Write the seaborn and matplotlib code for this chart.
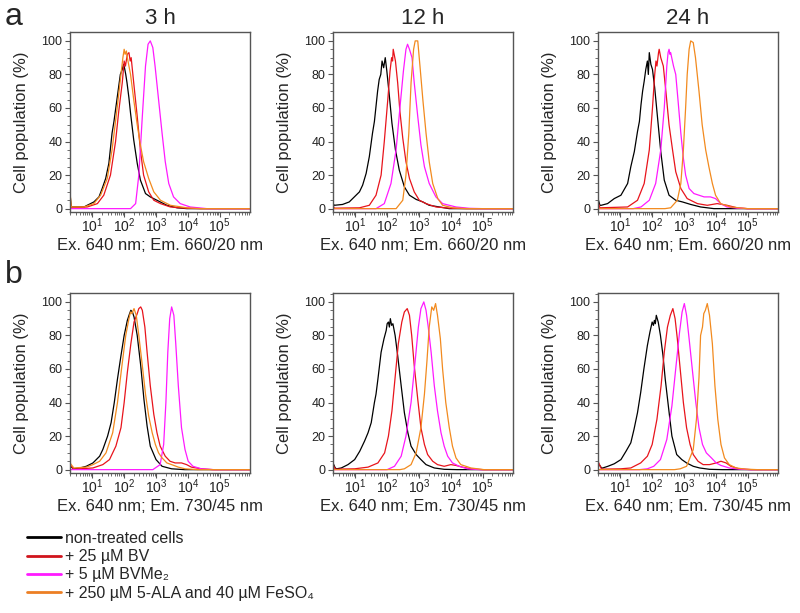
import numpy as np
import pandas as pd
import matplotlib
matplotlib.use("Agg")
import matplotlib.pyplot as plt
import seaborn as sns
from matplotlib.lines import Line2D
from matplotlib.ticker import FixedLocator, LogLocator, FuncFormatter, MultipleLocator, NullFormatter

# ---------------- data (log10 intensity, % cell population) ----------------
TREATMENTS = ["non-treated cells", "+ 25 µM BV", "+ 5 µM BVMe₂",
              "+ 250 µM 5-ALA and 40 µM FeSO₄"]
COLORS = ["#000000", "#e8141c", "#ff1aff", "#f28a1e"]
LEGEND_COLORS = ["#000000", "#d0141c", "#ff1aff", "#ec7f24"]
TIMES = ["3 h", "12 h", "24 h"]
XLABELS = ["Ex. 640 nm; Em. 660/20 nm", "Ex. 640 nm; Em. 730/45 nm"]
XTICKS = [1, 2, 3, 4, 5]

# ---- row a, 3 h
a3_black = [(0.30, 9), (0.34, 1), (0.55, 1), (0.74, 1), (0.84, 2), (1.05, 4), (1.21, 7), (1.31, 12),
            (1.42, 18), (1.52, 27), (1.62, 45), (1.68, 52), (1.73, 59), (1.78, 66), (1.83, 73),
            (1.88, 80), (1.94, 83), (1.98, 86), (2.01, 84), (2.05, 80), (2.09, 75), (2.15, 66),
            (2.20, 57), (2.30, 41), (2.41, 27), (2.51, 17), (2.67, 9), (2.82, 7), (3.03, 5),
            (3.34, 2), (3.66, 0.5), (3.97, 0), (5.95, 0)]
a3_red = [(0.30, 5), (0.34, 0.5), (0.84, 1), (1.16, 3), (1.36, 8), (1.57, 20), (1.73, 40), (1.83, 58),
          (1.94, 75), (2.00, 88), (2.04, 85), (2.10, 92), (2.15, 93), (2.19, 88), (2.22, 90),
          (2.30, 75), (2.41, 55), (2.51, 35), (2.61, 20), (2.77, 10), (2.93, 5), (3.14, 3),
          (3.45, 1), (3.90, 0.3), (4.40, 0), (5.95, 0)]
a3_magenta = [(0.30, 0), (2.20, 0), (2.36, 3), (2.46, 20), (2.57, 55), (2.67, 85), (2.75, 98),
              (2.82, 100), (2.90, 96), (2.97, 85), (3.08, 65), (3.19, 45), (3.29, 28), (3.40, 15),
              (3.55, 7), (3.76, 3), (4.07, 1), (4.60, 0), (5.95, 0)]
a3_orange = [(0.30, 10), (0.34, 1), (0.74, 1), (1.05, 3), (1.26, 8), (1.47, 18), (1.62, 35),
             (1.78, 60), (1.90, 80), (1.96, 90), (2.00, 95), (2.03, 92), (2.07, 94), (2.10, 90),
             (2.20, 80), (2.30, 65), (2.41, 50), (2.51, 38), (2.61, 28), (2.77, 18), (2.93, 10),
             (3.14, 5), (3.45, 2), (3.97, 0.5), (4.40, 0), (5.95, 0)]

# ---- row a, 12 h
a12_black = [(0.30, 3), (0.34, 2), (0.60, 2.5), (0.81, 4), (0.97, 7), (1.13, 10), (1.23, 14),
             (1.34, 21), (1.44, 31), (1.54, 45), (1.60, 52), (1.65, 61), (1.70, 70), (1.75, 77),
             (1.80, 80), (1.84, 88), (1.89, 84), (1.94, 90), (1.99, 82), (2.07, 67), (2.15, 51),
             (2.26, 35), (2.38, 23), (2.54, 13), (2.70, 8), (2.91, 5.5), (3.12, 4), (3.32, 2),
             (3.64, 1), (3.95, 0), (5.95, 0)]
a12_red = [(0.30, 2), (0.34, 0.3), (1.13, 0.5), (1.44, 2), (1.65, 8), (1.81, 20), (1.91, 40),
           (2.02, 65), (2.09, 82), (2.14, 90), (2.17, 88), (2.19, 95), (2.26, 88), (2.33, 75),
           (2.40, 58), (2.49, 42), (2.59, 28), (2.70, 18), (2.85, 10), (3.01, 5), (3.22, 3),
           (3.53, 1), (3.95, 0.3), (4.50, 0), (5.95, 0)]
a12_magenta = [(0.30, 0), (1.65, 0), (1.91, 3), (2.12, 15), (2.28, 35), (2.40, 60), (2.51, 82),
               (2.59, 95), (2.64, 98), (2.70, 95), (2.78, 90), (2.85, 75), (2.96, 55), (3.06, 38),
               (3.17, 25), (3.32, 15), (3.53, 7), (3.74, 3), (4.16, 1), (4.58, 0.2), (5.00, 0),
               (5.95, 0)]
a12_orange = [(0.30, 0), (2.28, 0), (2.49, 5), (2.59, 20), (2.68, 45), (2.75, 75), (2.83, 95),
              (2.88, 100), (2.96, 100), (3.03, 85), (3.12, 65), (3.22, 45), (3.32, 28), (3.43, 15),
              (3.59, 6), (3.74, 2), (4.06, 0.5), (4.50, 0), (5.95, 0)]

# ---- row a, 24 h
a24_black = [(0.30, 6), (0.36, 2), (0.40, 2), (0.60, 3), (0.81, 6), (1.02, 8), (1.23, 15), (1.33, 25),
             (1.44, 34), (1.54, 46), (1.60, 52), (1.65, 62), (1.70, 70), (1.75, 76), (1.80, 83),
             (1.85, 88), (1.88, 80), (1.91, 93), (1.96, 86), (2.01, 83), (2.08, 72), (2.17, 54),
             (2.27, 34), (2.38, 17), (2.53, 8), (2.74, 5), (2.95, 4), (3.21, 2.5), (3.52, 1),
             (3.94, 0), (5.95, 0)]
a24_red = [(0.30, 4), (0.36, 0.5), (1.23, 1), (1.54, 5), (1.75, 15), (1.91, 35), (2.01, 60),
           (2.08, 80), (2.12, 88), (2.15, 85), (2.20, 93), (2.22, 95), (2.27, 90), (2.35, 85),
           (2.43, 70), (2.53, 50), (2.64, 35), (2.74, 22), (2.90, 12), (3.10, 6), (3.42, 3),
           (3.73, 2), (4.04, 3), (4.35, 2), (4.67, 0.5), (5.00, 0), (5.95, 0)]
a24_magenta = [(0.30, 0), (1.40, 0), (1.65, 1), (1.91, 5), (2.11, 15), (2.27, 35), (2.38, 60),
               (2.46, 85), (2.50, 93), (2.53, 95), (2.56, 92), (2.58, 93), (2.67, 85), (2.74, 80),
               (2.81, 65), (2.90, 45), (2.98, 30), (3.05, 20), (3.16, 12), (3.31, 9), (3.47, 8),
               (3.63, 7), (3.83, 7), (3.99, 6), (4.15, 3), (4.35, 1), (4.67, 0.3), (5.00, 0),
               (5.95, 0)]
a24_orange = [(0.30, 0), (2.40, 0), (2.58, 0.5), (2.79, 5), (2.90, 15), (2.98, 35), (3.05, 60),
              (3.10, 80), (3.16, 95), (3.21, 100), (3.29, 99), (3.36, 90), (3.47, 70), (3.57, 50),
              (3.68, 35), (3.78, 25), (3.89, 15), (3.99, 8), (4.15, 3), (4.46, 1), (4.98, 0),
              (5.95, 0)]

# ---- row b, 3 h
b3_black = [(0.30, 2), (0.42, 0.5), (0.61, 1), (0.81, 2), (1.02, 4), (1.23, 8), (1.33, 12),
            (1.48, 20), (1.59, 28), (1.69, 40), (1.79, 54), (1.90, 68), (2.00, 80), (2.10, 89),
            (2.17, 93), (2.21, 95), (2.26, 94), (2.31, 91), (2.41, 80), (2.52, 62), (2.62, 42),
            (2.72, 26), (2.82, 14), (3.00, 6), (3.19, 2), (3.49, 0.5), (3.90, 0), (5.95, 0)]
b3_red = [(0.30, 3), (0.42, 0.3), (0.61, 0.5), (1.02, 1), (1.33, 3), (1.54, 6), (1.74, 14),
          (1.90, 25), (2.00, 40), (2.10, 58), (2.21, 75), (2.31, 88), (2.41, 93), (2.46, 96),
          (2.52, 97), (2.57, 95), (2.65, 85), (2.72, 70), (2.82, 50), (2.93, 33), (3.03, 22),
          (3.13, 14), (3.29, 8), (3.44, 5), (3.60, 4), (3.80, 4), (3.96, 3), (4.11, 1.5),
          (4.42, 0.5), (4.80, 0), (5.95, 0)]
b3_magenta = [(0.30, 0), (2.90, 0), (3.13, 3), (3.24, 15), (3.31, 40), (3.37, 70), (3.43, 90),
              (3.49, 97), (3.56, 92), (3.62, 75), (3.70, 50), (3.80, 25), (3.91, 12), (4.01, 5),
              (4.16, 2), (4.42, 0.5), (4.80, 0), (5.95, 0)]
b3_orange = [(0.30, 4), (0.42, 1), (0.81, 1.5), (1.02, 3), (1.23, 5), (1.43, 10), (1.64, 22),
             (1.79, 40), (1.93, 62), (2.05, 80), (2.15, 90), (2.20, 94), (2.24, 93), (2.31, 96),
             (2.38, 92), (2.46, 80), (2.57, 62), (2.67, 45), (2.77, 32), (2.88, 22), (2.98, 15),
             (3.08, 10), (3.19, 7), (3.34, 4), (3.49, 3), (3.70, 1.5), (3.91, 0.5), (4.30, 0),
             (5.95, 0)]

# ---- row b, 12 h
b12_black = [(0.30, 4), (0.37, 1), (0.41, 0.5), (0.56, 1), (0.77, 3), (0.98, 6), (1.14, 11),
             (1.29, 17), (1.40, 22), (1.50, 28), (1.60, 40), (1.65, 45), (1.71, 54), (1.76, 62),
             (1.81, 70), (1.90, 78), (1.97, 83), (2.00, 87), (2.04, 88), (2.07, 85), (2.10, 90),
             (2.14, 86), (2.18, 87), (2.25, 80), (2.33, 68), (2.44, 50), (2.54, 34), (2.65, 22),
             (2.75, 14), (2.91, 9), (3.06, 6), (3.22, 3), (3.48, 1), (3.79, 0.2), (4.20, 0),
             (5.95, 0)]
b12_red = [(0.30, 3), (0.37, 0.3), (0.98, 0.5), (1.40, 1.5), (1.71, 4), (1.92, 10), (2.04, 20),
           (2.15, 35), (2.25, 55), (2.35, 75), (2.46, 88), (2.54, 94), (2.63, 96), (2.70, 92),
           (2.77, 80), (2.85, 62), (2.96, 42), (3.06, 25), (3.17, 15), (3.27, 9), (3.43, 5),
           (3.58, 3), (3.79, 2), (4.00, 3), (4.16, 2.5), (4.36, 1.5), (4.63, 0.5), (5.00, 0),
           (5.95, 0)]
b12_magenta = [(0.30, 0), (2.00, 0), (2.23, 2), (2.44, 8), (2.59, 20), (2.75, 40), (2.88, 65),
               (2.98, 85), (3.06, 96), (3.15, 100), (3.22, 95), (3.29, 85), (3.38, 70), (3.48, 50),
               (3.58, 35), (3.69, 22), (3.79, 14), (3.90, 8), (4.05, 4), (4.26, 2), (4.52, 0.5),
               (4.90, 0), (5.95, 0)]
b12_orange = [(0.30, 0), (2.40, 0), (2.54, 0.5), (2.75, 3), (2.91, 10), (3.06, 25), (3.17, 45),
              (3.25, 65), (3.32, 85), (3.40, 97), (3.46, 95), (3.52, 99), (3.58, 92), (3.67, 78),
              (3.74, 60), (3.84, 40), (3.95, 25), (4.05, 14), (4.16, 7), (4.31, 3), (4.63, 1),
              (5.04, 0), (5.95, 0)]

# ---- row b, 24 h
b24_black = [(0.30, 4), (0.41, 1), (0.45, 1), (0.61, 2), (0.81, 3.5), (1.02, 6), (1.18, 11),
             (1.33, 16), (1.43, 24), (1.54, 34), (1.64, 46), (1.74, 60), (1.85, 74), (1.93, 82),
             (2.00, 88), (2.04, 86), (2.07, 89), (2.10, 87), (2.13, 92), (2.19, 88), (2.26, 80),
             (2.34, 68), (2.41, 54), (2.52, 36), (2.62, 20), (2.77, 9), (2.93, 6), (3.08, 4),
             (3.29, 2), (3.49, 1), (3.80, 0.2), (4.20, 0), (5.95, 0)]
b24_red = [(0.30, 5), (0.41, 0.3), (1.02, 0.5), (1.33, 1), (1.64, 4), (1.85, 8), (2.00, 15),
           (2.15, 30), (2.28, 50), (2.38, 70), (2.48, 85), (2.57, 92), (2.65, 96), (2.72, 90),
           (2.79, 78), (2.88, 60), (2.98, 40), (3.08, 25), (3.19, 15), (3.29, 9), (3.44, 5),
           (3.60, 3), (3.80, 3), (4.01, 4), (4.16, 5), (4.32, 4), (4.47, 2), (4.73, 0.5),
           (5.10, 0), (5.95, 0)]
b24_magenta = [(0.30, 0), (1.60, 0), (1.85, 0.5), (2.05, 2), (2.26, 6), (2.46, 18), (2.62, 38),
               (2.75, 62), (2.86, 82), (2.94, 94), (3.01, 99), (3.08, 92), (3.16, 78), (3.27, 58),
               (3.37, 40), (3.47, 25), (3.58, 15), (3.70, 10), (3.86, 7), (4.01, 4), (4.16, 2.5),
               (4.42, 1), (4.73, 0.3), (5.10, 0), (5.95, 0)]
b24_orange = [(0.30, 0), (2.70, 0), (2.88, 0.5), (3.08, 2), (3.29, 12), (3.39, 30), (3.47, 55),
              (3.52, 80), (3.58, 85), (3.62, 93), (3.67, 95), (3.73, 99), (3.80, 92), (3.89, 75),
              (3.97, 50), (4.06, 30), (4.16, 15), (4.27, 7), (4.42, 3), (4.63, 1), (4.94, 0.3),
              (5.30, 0), (5.95, 0)]

PANELS = [
    [[a3_black, a3_red, a3_magenta, a3_orange],
     [a12_black, a12_red, a12_magenta, a12_orange],
     [a24_black, a24_red, a24_magenta, a24_orange]],
    [[b3_black, b3_red, b3_magenta, b3_orange],
     [b12_black, b12_red, b12_magenta, b12_orange],
     [b24_black, b24_red, b24_magenta, b24_orange]],
]

# ---------------- style ----------------
sns.set_theme(style="ticks")
plt.rcParams["font.family"] = ["Liberation Sans", "DejaVu Sans"]
plt.rcParams["mathtext.fontset"] = "custom"
plt.rcParams["mathtext.rm"] = "Liberation Sans"
plt.rcParams["mathtext.it"] = "Liberation Sans:italic"
plt.rcParams["mathtext.bf"] = "Liberation Sans:bold"
plt.rcParams["mathtext.sf"] = "Liberation Sans"

W, H = 800, 613
fig = plt.figure(figsize=(W / 100, H / 100), dpi=100)

col_left = [70, 333, 598]
row_top = [32, 293]
AX_W, AX_H = 180, 180
SPINE = "#555555"

for r in range(2):
    for c in range(3):
        l = col_left[c] / W
        b = 1 - (row_top[r] + AX_H) / H
        ax = fig.add_axes([l, b, AX_W / W, AX_H / H])
        rows = []
        for name, curve in zip(TREATMENTS, PANELS[r][c]):
            for lx, yv in curve:
                rows.append({"x": 10 ** lx, "y": yv, "treatment": name})
        df = pd.DataFrame(rows)
        sns.lineplot(data=df, x="x", y="y", hue="treatment", hue_order=TREATMENTS,
                     palette=COLORS, estimator=None, sort=False, legend=False,
                     linewidth=0.9, ax=ax)
        ax.set_xscale("log")
        ax.set_xlim(10 ** 0.30, 10 ** 5.95)
        ax.set_ylim(-2, 105.3)
        ax.xaxis.set_major_locator(FixedLocator([10.0 ** k for k in XTICKS]))
        ax.xaxis.set_major_formatter(FuncFormatter(
            lambda v, p: r"$10^{%d}$" % int(round(np.log10(v)))))
        ax.xaxis.set_minor_locator(LogLocator(base=10, subs=np.arange(2, 10), numticks=30))
        ax.xaxis.set_minor_formatter(NullFormatter())
        ax.yaxis.set_major_locator(MultipleLocator(20))
        ax.yaxis.set_minor_locator(MultipleLocator(5))
        for s in ax.spines.values():
            s.set_visible(True)
            s.set_color(SPINE)
            s.set_linewidth(1.0)
        ax.tick_params(axis="both", which="major", direction="out", length=3.5, width=0.8,
                       color=SPINE, labelcolor="#222222")
        ax.tick_params(axis="both", which="minor", direction="out", length=2, width=0.6,
                       color=SPINE)
        ax.tick_params(axis="x", which="major", pad=0, labelsize=10)
        ax.tick_params(axis="y", which="major", pad=2, labelsize=9)
        ax.set_ylabel("Cell population (%)", fontsize=12, labelpad=9)
        ax.set_xlabel(XLABELS[r], fontsize=12, labelpad=2)
        if r == 0:
            ax.set_title(TIMES[c], fontsize=16, pad=6)

fig.text(5 / W, 1 - 25 / H, "a", fontsize=23, va="baseline", ha="left")
fig.text(5 / W, 1 - 283 / H, "b", fontsize=23, va="baseline", ha="left")

handles = [Line2D([0], [0], color=col, lw=2) for col in LEGEND_COLORS]
fig.legend(handles, TREATMENTS, loc="upper left", bbox_to_anchor=(27 / W, 1 - 531 / H),
           frameon=False, borderaxespad=0, borderpad=0, fontsize=11.5,
           handlelength=2.1, handletextpad=0.3, labelspacing=0.2)

fig.savefig("out.png", dpi=100)
